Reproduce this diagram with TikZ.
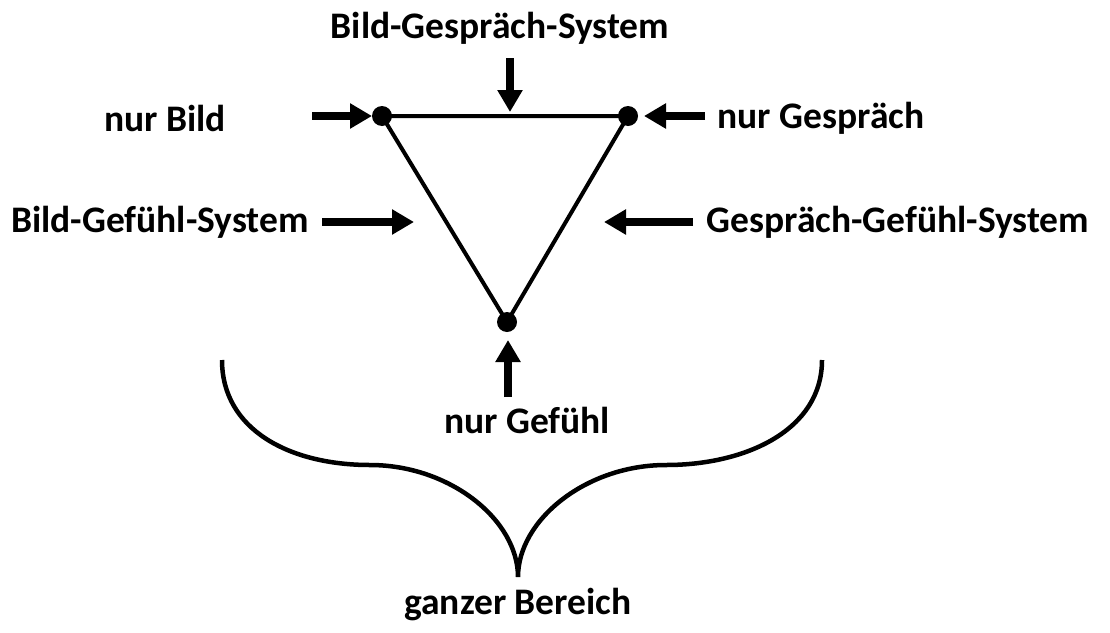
\documentclass[tikz,border=0pt]{standalone}
\usepackage{fontspec}
\setmainfont{Carlito}
\usetikzlibrary{arrows.meta}
\begin{document}
\begin{tikzpicture}[x=1pt,y=-1pt,
  lbl/.style={font=\bfseries\fontsize{37.5}{44}\selectfont, inner sep=0pt},
  bigarrow/.style={line width=8pt, -{Triangle[length=22pt,width=24pt]}},
  vdot/.style={circle, fill=black, inner sep=0pt, minimum size=20pt}]
\useasboundingbox (0,0) rectangle (1110,632);
\node[vdot] (A) at (382,116) {};
\node[vdot] (B) at (628,116) {};
\node[vdot] (C) at (507,322) {};
\draw[line width=4pt] (A.center) -- (B.center) -- (C.center) -- cycle;
\coordinate (AB) at (510,112);
\coordinate (AC) at (414,222);
\coordinate (BC) at (604,222);
\coordinate (tA) at (372,116);
\coordinate (tB) at (644,116);
\coordinate (tC) at (508,340);
\node[lbl] (t1) at (500,28) {Bild-Gespräch-System};
\node[lbl] (t2) at (165,118) {nur Bild};
\node[lbl] (t3) at (821,118) {nur Gespräch};
\node[lbl] (t4) at (160,222) {Bild-Gefühl-System};
\node[lbl] (t5) at (898,222) {Gespräch-Gefühl-System};
\node[lbl] (t6) at (527,420) {nur Gefühl};
\node[lbl] (t7) at (518,605) {ganzer Bereich};
\coordinate (s1) at (510,58);
\coordinate (s2) at (312,116);
\coordinate (s3) at (705,116);
\coordinate (s4) at (322,222);
\coordinate (s5) at (693,222);
\coordinate (s6) at (508,397);
\draw[bigarrow] (s1) -- (AB);
\draw[bigarrow] (s2) -- (tA);
\draw[bigarrow] (s3) -- (tB);
\draw[bigarrow] (s4) -- (AC);
\draw[bigarrow] (s5) -- (BC);
\draw[bigarrow] (s6) -- (tC);
\coordinate (bl) at (222,360);
\coordinate (br) at (822,360);
\coordinate (bt) at (518,577);
\draw[line width=4.5pt] (bl) .. controls (222,430) and (290,465) .. (370,465)
  .. controls (450,465) and (518,520) .. (bt)
  .. controls (518,520) and (586,465) .. (666,465)
  .. controls (746,465) and (822,430) .. (br);
\end{tikzpicture}
\end{document}
